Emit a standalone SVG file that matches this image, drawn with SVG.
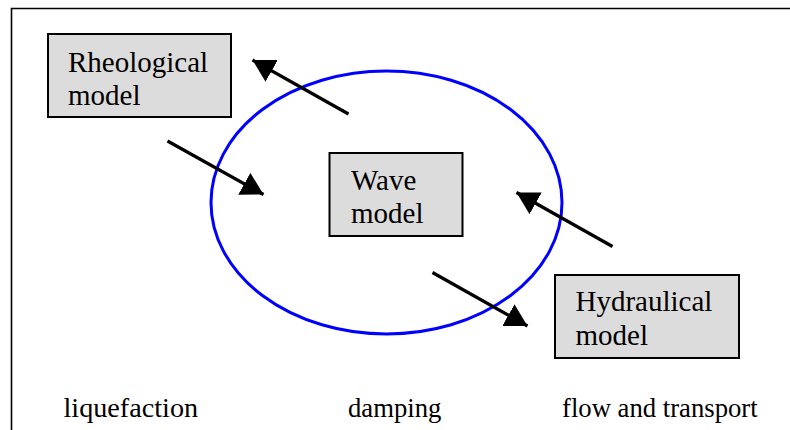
<svg xmlns="http://www.w3.org/2000/svg" width="790" height="430" viewBox="0 0 790 430">
<defs>
<style>
.box{fill:#dcdcdc;stroke:#000;stroke-width:2}
.t{font-family:"Liberation Serif","Times New Roman",serif;font-size:29px;fill:#000}
.l{font-family:"Liberation Serif","Times New Roman",serif;font-size:26.7px;fill:#000}
.arr{stroke:#000;stroke-width:3.2;fill:none;marker-end:url(#ah)}
</style>
<marker id="ah" markerUnits="userSpaceOnUse" markerWidth="26" markerHeight="26" viewBox="0 0 26 26" refX="22" refY="13" orient="auto">
<path d="M0,0.5 L22,13 L0,25.5 Z" fill="#000"/>
</marker>
</defs>
<rect width="790" height="430" fill="#fff"/>
<path d="M11.5,430 V8.5 H790" fill="none" stroke="#000" stroke-width="1.6"/>
<ellipse cx="386.5" cy="202.5" rx="175.5" ry="131.5" fill="none" stroke="#0000ff" stroke-width="3"/>
<g id="connectors">
<line class="arr" x1="348.5" y1="114" x2="252.5" y2="60"/>
<line class="arr" x1="167.5" y1="141" x2="263.5" y2="194.5"/>
<line class="arr" x1="612.5" y1="246.5" x2="516.5" y2="192.5"/>
<line class="arr" x1="432.5" y1="272.5" x2="527.5" y2="326"/>
</g>
<g id="rheological">
<rect class="box" x="48" y="34" width="183" height="83"/>
<text class="t" x="68" y="71.5">Rheological</text>
<text class="t" x="68" y="105">model</text>
</g>
<g id="wave">
<rect class="box" x="329.5" y="153" width="133" height="83"/>
<text class="t" x="351" y="190">Wave</text>
<text class="t" x="351" y="223">model</text>
</g>
<g id="hydraulical">
<rect class="box" x="555" y="275" width="184" height="83"/>
<text class="t" x="575.5" y="311">Hydraulical</text>
<text class="t" x="575.5" y="345">model</text>
</g>
<g id="labels">
<text class="l" x="63.5" y="416.5" style="font-size:28.2px">liquefaction</text>
<text class="l" x="348" y="416.5">damping</text>
<text class="l" x="562" y="416.5">flow and transport</text>
</g>
</svg>
